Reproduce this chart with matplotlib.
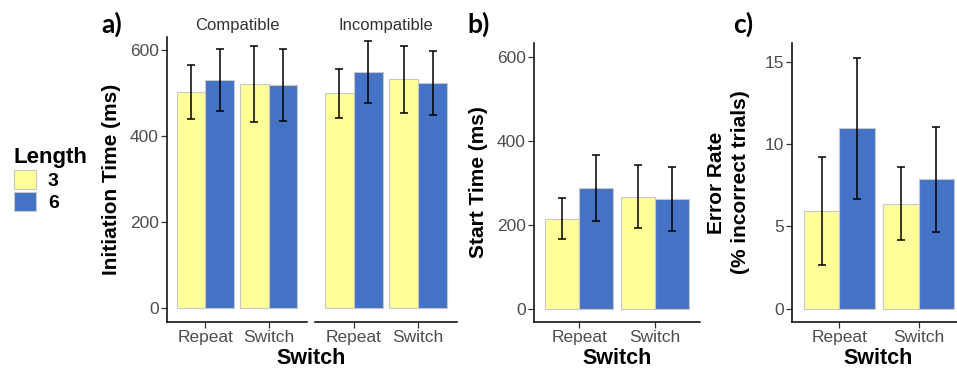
import matplotlib
matplotlib.use('Agg')
from matplotlib import pyplot as plt
from matplotlib.patches import Patch
import numpy as np

CONDITIONS = ['Repeat', 'Switch']
LENGTHS = ['3', '6']
FACETS = ['Compatible', 'Incompatible']

# a) initiation time (ms), mean and half-width of error bar
init_comp_mean_3 = [503, 520]
init_comp_err_3 = [63, 88]
init_comp_mean_6 = [530, 519]
init_comp_err_6 = [72, 84]
init_incomp_mean_3 = [499, 532]
init_incomp_err_3 = [57, 78]
init_incomp_mean_6 = [548, 523]
init_incomp_err_6 = [72, 75]

# b) start time (ms)
start_mean_3 = [215, 267]
start_err_3 = [50, 75]
start_mean_6 = [287, 261]
start_err_6 = [79, 76]

# c) error rate (% incorrect trials)
error_mean_3 = [5.94, 6.38]
error_err_3 = [3.28, 2.21]
error_mean_6 = [10.94, 7.86]
error_err_6 = [4.27, 3.19]

YELLOW = '#FFFF99'
BLUE = '#4472C4'
EDGE = '#C8C8C8'
TICK_GREY = '#4D4D4D'

W, H = 957, 368
plt.rcParams['font.family'] = ['Liberation Sans', 'DejaVu Sans']


def box(x0, x1, y0, y1):
    return [x0 / W, 1 - y1 / H, (x1 - x0) / W, (y1 - y0) / H]


def style_axis(ax, ylim, yticks, show_y=True):
    ax.set_xlim(0.4, 2.6)
    ax.set_ylim(*ylim)
    for side in ['top', 'right']:
        ax.spines[side].set_visible(False)
    ax.spines['bottom'].set_linewidth(1.1)
    ax.spines['left'].set_linewidth(1.1)
    ax.set_xticks([1, 2])
    ax.set_xticklabels(CONDITIONS)
    ax.tick_params(axis='both', labelsize=12.5, labelcolor=TICK_GREY,
                   color='#333333', length=4, width=0.9, pad=2)
    if show_y:
        ax.set_yticks(yticks)
    else:
        ax.spines['left'].set_visible(False)
        ax.set_yticks([])


def draw_bars(ax, mean_3, err_3, mean_6, err_6):
    x = np.arange(1, len(CONDITIONS) + 1)
    w = 0.45
    for off, m, e, col in [(-w / 2, mean_3, err_3, YELLOW), (w / 2, mean_6, err_6, BLUE)]:
        ax.bar(x + off, m, width=w, color=col, edgecolor=EDGE, linewidth=0.8, zorder=2)
        ax.errorbar(x + off, m, yerr=e, fmt='none', ecolor='black', elinewidth=1.1,
                    capsize=3, capthick=1.1, zorder=3)


fig = plt.figure(figsize=(W / 100, H / 100), dpi=100)

# panel a, two facets
ax_a1 = fig.add_axes(box(167, 307, 37, 322))
ax_a2 = fig.add_axes(box(315, 457, 37, 322))
draw_bars(ax_a1, init_comp_mean_3, init_comp_err_3, init_comp_mean_6, init_comp_err_6)
draw_bars(ax_a2, init_incomp_mean_3, init_incomp_err_3, init_incomp_mean_6, init_incomp_err_6)
style_axis(ax_a1, (-32.6, 630), [0, 200, 400, 600])
style_axis(ax_a2, (-32.6, 630), [], show_y=False)
for ax, name in zip([ax_a1, ax_a2], FACETS):
    ax.text(0.5, 1.015, name, transform=ax.transAxes, ha='center', va='bottom',
            fontsize=12, color='#333333')
ax_a1.set_ylabel('Initiation Time (ms)', fontsize=15, fontweight='bold', labelpad=6)

# panel b
ax_b = fig.add_axes(box(534, 700, 43, 322))
draw_bars(ax_b, start_mean_3, start_err_3, start_mean_6, start_err_6)
style_axis(ax_b, (-32, 634), [0, 200, 400, 600])
ax_b.set_ylabel('Start Time (ms)', fontsize=15, fontweight='bold', labelpad=6)

# panel c
ax_c = fig.add_axes(box(792, 966, 43, 322))
draw_bars(ax_c, error_mean_3, error_err_3, error_mean_6, error_err_6)
style_axis(ax_c, (-0.81, 16.13), [0, 5, 10, 15])
ax_c.set_ylabel('Error Rate\n(% incorrect trials)', fontsize=15, fontweight='bold',
                labelpad=10, linespacing=1.35)

# x labels
for xc in [311, 617, 878]:
    fig.text(xc / W, 1 - 358 / H, 'Switch', ha='center', va='center',
             fontsize=15.5, fontweight='bold')

# panel letters
for xc, lab in [(112, 'a)'), (479, 'b)'), (743, 'c)')]:
    fig.text(xc / W, 1 - 24 / H, lab, ha='center', va='center', fontsize=19,
             fontweight='bold', family=['Lato', 'DejaVu Sans'])

# legend
handles = [Patch(facecolor=YELLOW, edgecolor=EDGE, linewidth=0.8),
           Patch(facecolor=BLUE, edgecolor=EDGE, linewidth=0.8)]
leg = fig.legend(handles, LENGTHS, title='Length', loc='upper left',
                 bbox_to_anchor=(6 / W, 1 - 139 / H), frameon=False,
                 prop={'size': 14, 'weight': 'bold'}, handlelength=1.15,
                 handleheight=1.15, handletextpad=0.6, labelspacing=0.1,
                 alignment='left', borderaxespad=0)
leg.get_title().set_fontsize(16)
leg.get_title().set_fontweight('bold')

fig.savefig('out.png', dpi=100)
